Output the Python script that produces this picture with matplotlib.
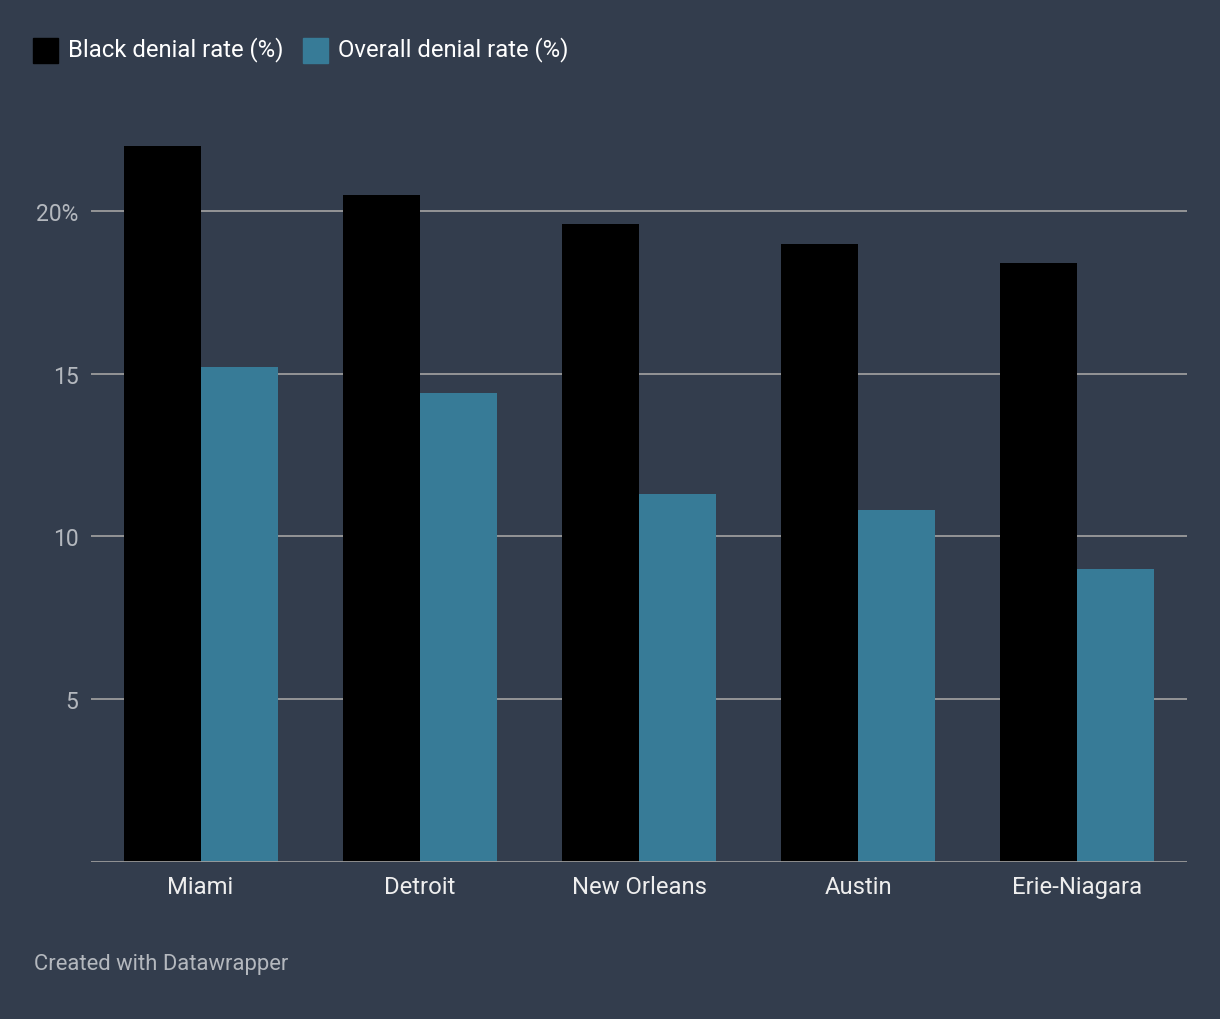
import numpy as np
from matplotlib import pyplot as plt
from matplotlib.patches import Rectangle

# data
cities = ['Miami', 'Detroit', 'New Orleans', 'Austin', 'Erie-Niagara']
black_rate = [22.0, 20.5, 19.6, 19.0, 18.4]
overall_rate = [15.2, 14.4, 11.3, 10.8, 9.0]
y_ticks = [5, 10, 15, 20]
y_labels = ['5', '10', '15', '20%']

bg = '#333d4d'
teal = '#377b97'

plt.rcParams['font.family'] = ['Roboto', 'DejaVu Sans']

fig = plt.figure(figsize=(12.2, 10.2), dpi=100, facecolor=bg)
ax = fig.add_axes([91 / 1220, 1 - 862.5 / 1020, 1096 / 1220, (862.5 - 131) / 1020])
ax.set_facecolor(bg)

x = np.arange(len(cities))
w = 77 / 219.2
ax.bar(x - w / 2, black_rate, w, color='black', zorder=3)
ax.bar(x + w / 2, overall_rate, w, color=teal, zorder=3)

ax.set_xlim(-0.5, len(cities) - 0.5)
ax.set_ylim(0, 22.5)

for t in y_ticks:
    ax.axhline(t, color='#9c9c9c', lw=1.3, zorder=1)
ax.axhline(0, color='#9c9c9c', lw=2, zorder=4)

ax.set_yticks(y_ticks)
ax.set_yticklabels(y_labels)
ax.set_xticks(x)
ax.set_xticklabels(cities)
ax.tick_params(axis='y', length=0, pad=9, labelsize=16.5, labelcolor='#b4b8be')
ax.tick_params(axis='x', length=0, pad=9.5, labelsize=17.2, labelcolor='#eeeeee')
for s in ax.spines.values():
    s.set_visible(False)

# legend
fig.patches.append(Rectangle((33 / 1220, 1 - 64 / 1020), 25 / 1220, 25 / 1020,
                             transform=fig.transFigure, color='black'))
fig.text(68 / 1220, 1 - 50 / 1020, 'Black denial rate (%)', color='white',
         fontsize=17.2, va='center')
fig.patches.append(Rectangle((303 / 1220, 1 - 64 / 1020), 25 / 1220, 25 / 1020,
                             transform=fig.transFigure, color=teal))
fig.text(338 / 1220, 1 - 50 / 1020, 'Overall denial rate (%)', color='white',
         fontsize=17.2, va='center')

fig.text(34 / 1220, 1 - 965 / 1020, 'Created with Datawrapper', color='#b4b8be',
         fontsize=15.8, va='center')

plt.savefig('out.png', dpi=100, facecolor=bg)
